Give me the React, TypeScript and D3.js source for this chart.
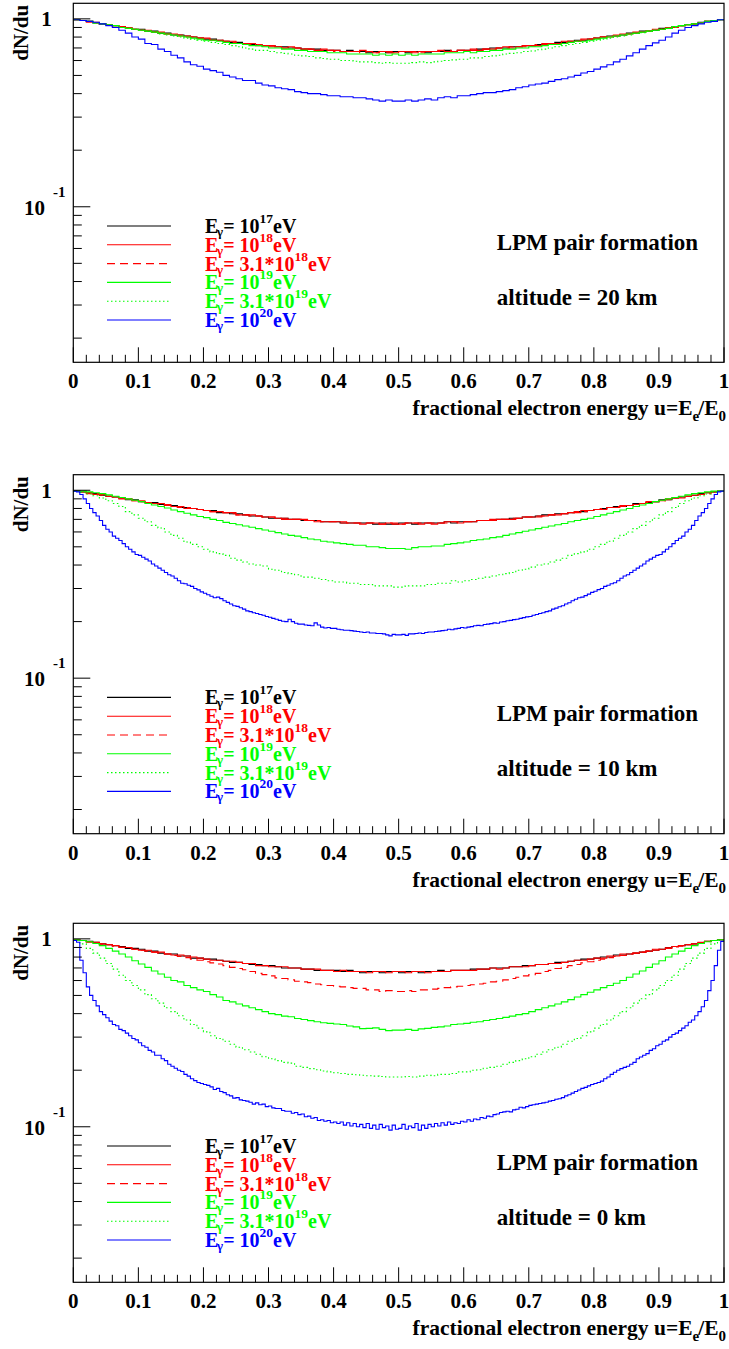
import React from "react";
import * as d3 from "d3";

// dN/du histograms over u = 0..1
// (100 bins where the curve is flat; 200 bins where the steep edges show finer steps)

// altitude = 20 km
const h20_e17 = [
  0.99, 0.98, 0.97, 0.95, 0.94, 0.93, 0.92, 0.91, 0.9, 0.88,
  0.88, 0.86, 0.86, 0.84, 0.84, 0.82, 0.82, 0.81, 0.8, 0.79,
  0.78, 0.78, 0.77, 0.76, 0.75, 0.75, 0.74, 0.73, 0.73, 0.72,
  0.72, 0.71, 0.71, 0.7, 0.7, 0.69, 0.69, 0.69, 0.68, 0.68,
  0.68, 0.67, 0.68, 0.67, 0.67, 0.66, 0.67, 0.67, 0.66, 0.67,
  0.67, 0.66, 0.67, 0.67, 0.66, 0.67, 0.67, 0.68, 0.67, 0.68,
  0.68, 0.68, 0.69, 0.69, 0.7, 0.7, 0.7, 0.71, 0.71, 0.72,
  0.72, 0.73, 0.73, 0.74, 0.75, 0.75, 0.76, 0.77, 0.77, 0.78,
  0.79, 0.8, 0.81, 0.81, 0.82, 0.84, 0.84, 0.86, 0.86, 0.87,
  0.89, 0.89, 0.91, 0.92, 0.93, 0.94, 0.96, 0.97, 0.98, 0.99,
];
const h20_e18 = [
  0.99, 0.98, 0.96, 0.96, 0.94, 0.93, 0.92, 0.9, 0.9, 0.88,
  0.87, 0.87, 0.85, 0.85, 0.83, 0.83, 0.81, 0.81, 0.8, 0.79,
  0.79, 0.77, 0.77, 0.76, 0.76, 0.74, 0.74, 0.74, 0.72, 0.72,
  0.72, 0.71, 0.7, 0.71, 0.7, 0.69, 0.69, 0.68, 0.69, 0.68,
  0.68, 0.67, 0.67, 0.67, 0.68, 0.67, 0.66, 0.67, 0.67, 0.66,
  0.67, 0.67, 0.66, 0.67, 0.67, 0.67, 0.68, 0.67, 0.67, 0.68,
  0.68, 0.69, 0.68, 0.69, 0.69, 0.7, 0.71, 0.7, 0.71, 0.72,
  0.72, 0.72, 0.74, 0.74, 0.74, 0.76, 0.76, 0.76, 0.78, 0.78,
  0.79, 0.8, 0.8, 0.82, 0.83, 0.83, 0.85, 0.85, 0.86, 0.88,
  0.88, 0.9, 0.9, 0.92, 0.93, 0.94, 0.95, 0.97, 0.98, 0.99,
];
const h20_e31e18 = [
  0.99, 0.98, 0.97, 0.95, 0.94, 0.93, 0.92, 0.91, 0.89, 0.88,
  0.87, 0.86, 0.85, 0.84, 0.83, 0.82, 0.82, 0.8, 0.8, 0.79,
  0.78, 0.77, 0.77, 0.76, 0.75, 0.74, 0.74, 0.73, 0.73, 0.72,
  0.71, 0.71, 0.7, 0.7, 0.7, 0.69, 0.69, 0.68, 0.68, 0.68,
  0.67, 0.67, 0.67, 0.67, 0.66, 0.67, 0.66, 0.67, 0.66, 0.66,
  0.67, 0.66, 0.67, 0.66, 0.67, 0.67, 0.67, 0.67, 0.68, 0.68,
  0.68, 0.68, 0.69, 0.69, 0.69, 0.7, 0.7, 0.71, 0.71, 0.71,
  0.72, 0.73, 0.73, 0.74, 0.74, 0.75, 0.76, 0.76, 0.77, 0.78,
  0.79, 0.8, 0.81, 0.81, 0.82, 0.83, 0.84, 0.85, 0.86, 0.87,
  0.88, 0.9, 0.91, 0.92, 0.93, 0.94, 0.95, 0.97, 0.98, 0.99,
];
const h20_e19 = [
  0.99, 0.98, 0.97, 0.95, 0.94, 0.93, 0.92, 0.9, 0.89, 0.88,
  0.87, 0.86, 0.85, 0.84, 0.83, 0.82, 0.81, 0.8, 0.79, 0.78,
  0.77, 0.77, 0.76, 0.75, 0.74, 0.74, 0.73, 0.72, 0.72, 0.71,
  0.7, 0.7, 0.69, 0.69, 0.68, 0.68, 0.67, 0.67, 0.67, 0.66,
  0.66, 0.66, 0.65, 0.65, 0.65, 0.65, 0.64, 0.65, 0.64, 0.65,
  0.64, 0.65, 0.64, 0.65, 0.65, 0.65, 0.65, 0.66, 0.66, 0.66,
  0.67, 0.66, 0.67, 0.67, 0.68, 0.68, 0.69, 0.69, 0.7, 0.7,
  0.71, 0.71, 0.72, 0.73, 0.73, 0.74, 0.75, 0.76, 0.76, 0.77,
  0.78, 0.79, 0.8, 0.81, 0.82, 0.83, 0.84, 0.85, 0.86, 0.87,
  0.88, 0.89, 0.91, 0.92, 0.93, 0.94, 0.95, 0.97, 0.98, 0.99,
];
const h20_e31e19 = [
  0.99, 0.98, 0.97, 0.95, 0.94, 0.93, 0.92, 0.9, 0.89, 0.88,
  0.87, 0.86, 0.85, 0.83, 0.82, 0.81, 0.8, 0.79, 0.78, 0.77,
  0.76, 0.75, 0.74, 0.73, 0.72, 0.71, 0.7, 0.69, 0.68, 0.68,
  0.67, 0.66, 0.655, 0.65, 0.64, 0.635, 0.63, 0.62, 0.615, 0.61,
  0.61, 0.6, 0.6, 0.595, 0.59, 0.59, 0.585, 0.58, 0.585, 0.58,
  0.58, 0.58, 0.585, 0.59, 0.585, 0.59, 0.595, 0.6, 0.605, 0.61,
  0.61, 0.62, 0.62, 0.63, 0.635, 0.64, 0.65, 0.655, 0.66, 0.67,
  0.675, 0.685, 0.69, 0.7, 0.71, 0.72, 0.73, 0.74, 0.75, 0.76,
  0.77, 0.78, 0.79, 0.8, 0.81, 0.82, 0.835, 0.845, 0.86, 0.87,
  0.88, 0.89, 0.9, 0.92, 0.93, 0.94, 0.95, 0.97, 0.98, 0.99,
];
const h20_e20 = [
  0.99, 0.98, 0.97, 0.96, 0.94, 0.92, 0.9, 0.87, 0.84, 0.8,
  0.78, 0.74, 0.73, 0.69, 0.67, 0.64, 0.62, 0.59, 0.57, 0.56,
  0.54, 0.53, 0.52, 0.5, 0.49, 0.48, 0.47, 0.47, 0.455, 0.445,
  0.44, 0.43, 0.425, 0.42, 0.41, 0.405, 0.4, 0.4, 0.395, 0.39,
  0.39, 0.385, 0.385, 0.38, 0.38, 0.375, 0.37, 0.365, 0.37, 0.365,
  0.365, 0.37, 0.365, 0.37, 0.375, 0.37, 0.38, 0.385, 0.38, 0.39,
  0.39, 0.395, 0.4, 0.405, 0.405, 0.41, 0.415, 0.42, 0.43, 0.435,
  0.445, 0.45, 0.455, 0.465, 0.475, 0.48, 0.49, 0.5, 0.515, 0.525,
  0.54, 0.555, 0.57, 0.59, 0.61, 0.635, 0.66, 0.69, 0.72, 0.745,
  0.77, 0.8, 0.84, 0.87, 0.9, 0.92, 0.94, 0.96, 0.97, 0.99,
];

// altitude = 10 km
const h10_e17 = [
  0.99, 0.98, 0.97, 0.96, 0.94, 0.93, 0.92, 0.91, 0.89, 0.89,
  0.87, 0.86, 0.86, 0.84, 0.83, 0.83, 0.81, 0.81, 0.8, 0.79,
  0.78, 0.78, 0.76, 0.76, 0.75, 0.75, 0.74, 0.73, 0.73, 0.72,
  0.71, 0.71, 0.71, 0.7, 0.7, 0.69, 0.69, 0.69, 0.68, 0.68,
  0.68, 0.67, 0.67, 0.67, 0.67, 0.67, 0.66, 0.67, 0.66, 0.66,
  0.67, 0.67, 0.66, 0.67, 0.67, 0.67, 0.67, 0.68, 0.67, 0.68,
  0.68, 0.68, 0.69, 0.69, 0.69, 0.7, 0.7, 0.71, 0.71, 0.72,
  0.72, 0.73, 0.74, 0.74, 0.75, 0.75, 0.76, 0.77, 0.77, 0.78,
  0.79, 0.8, 0.81, 0.82, 0.82, 0.83, 0.85, 0.85, 0.86, 0.87,
  0.89, 0.89, 0.91, 0.92, 0.93, 0.94, 0.96, 0.97, 0.98, 0.99,
];
const h10_e18 = [
  0.99, 0.98, 0.97, 0.95, 0.95, 0.93, 0.92, 0.91, 0.9, 0.88,
  0.88, 0.86, 0.85, 0.85, 0.83, 0.82, 0.82, 0.8, 0.8, 0.79,
  0.78, 0.77, 0.77, 0.76, 0.76, 0.74, 0.74, 0.74, 0.73, 0.72,
  0.72, 0.71, 0.7, 0.7, 0.7, 0.7, 0.69, 0.68, 0.68, 0.68,
  0.68, 0.68, 0.67, 0.67, 0.66, 0.67, 0.67, 0.66, 0.67, 0.66,
  0.66, 0.67, 0.67, 0.66, 0.67, 0.66, 0.67, 0.68, 0.68, 0.67,
  0.68, 0.68, 0.69, 0.69, 0.7, 0.7, 0.7, 0.7, 0.71, 0.72,
  0.72, 0.72, 0.73, 0.74, 0.74, 0.75, 0.76, 0.76, 0.78, 0.78,
  0.79, 0.79, 0.81, 0.81, 0.83, 0.83, 0.84, 0.85, 0.87, 0.87,
  0.88, 0.9, 0.91, 0.91, 0.93, 0.94, 0.95, 0.97, 0.98, 0.99,
];
const h10_e31e18 = [
  0.99, 0.98, 0.96, 0.96, 0.94, 0.93, 0.92, 0.9, 0.9, 0.88,
  0.87, 0.86, 0.85, 0.84, 0.84, 0.82, 0.81, 0.81, 0.8, 0.79,
  0.78, 0.77, 0.77, 0.76, 0.75, 0.74, 0.74, 0.73, 0.73, 0.72,
  0.72, 0.71, 0.71, 0.7, 0.7, 0.69, 0.69, 0.69, 0.68, 0.68,
  0.68, 0.67, 0.67, 0.67, 0.67, 0.67, 0.67, 0.66, 0.67, 0.67,
  0.66, 0.67, 0.67, 0.67, 0.67, 0.67, 0.67, 0.67, 0.68, 0.68,
  0.68, 0.68, 0.69, 0.69, 0.69, 0.7, 0.7, 0.71, 0.71, 0.72,
  0.72, 0.73, 0.73, 0.74, 0.75, 0.75, 0.76, 0.77, 0.77, 0.78,
  0.79, 0.8, 0.81, 0.82, 0.82, 0.83, 0.84, 0.85, 0.86, 0.87,
  0.88, 0.89, 0.91, 0.92, 0.93, 0.94, 0.95, 0.96, 0.98, 0.99,
];
const h10_e19 = [
  0.99, 0.99, 0.98, 0.97, 0.96, 0.945, 0.93, 0.915, 0.9, 0.885,
  0.87, 0.85, 0.835, 0.82, 0.805, 0.785, 0.77, 0.755, 0.74, 0.725,
  0.715, 0.7, 0.69, 0.675, 0.665, 0.655, 0.645, 0.635, 0.625, 0.615,
  0.605, 0.595, 0.585, 0.575, 0.57, 0.56, 0.55, 0.545, 0.535, 0.53,
  0.525, 0.52, 0.515, 0.51, 0.51, 0.5, 0.5, 0.495, 0.49, 0.49,
  0.49, 0.485, 0.495, 0.5, 0.5, 0.505, 0.505, 0.515, 0.52, 0.525,
  0.53, 0.54, 0.545, 0.55, 0.56, 0.565, 0.575, 0.585, 0.595, 0.605,
  0.615, 0.625, 0.635, 0.645, 0.655, 0.665, 0.68, 0.69, 0.7, 0.71,
  0.725, 0.74, 0.755, 0.77, 0.785, 0.8, 0.82, 0.835, 0.85, 0.87,
  0.885, 0.9, 0.915, 0.93, 0.945, 0.96, 0.97, 0.98, 0.99, 0.99,
];
const h10_e31e19 = [
  0.99, 0.975, 0.955, 0.935, 0.91, 0.88, 0.85, 0.82, 0.77, 0.74,
  0.71, 0.68, 0.65, 0.63, 0.6, 0.575, 0.555, 0.53, 0.515, 0.5,
  0.485, 0.47, 0.46, 0.45, 0.435, 0.425, 0.415, 0.405, 0.4, 0.395,
  0.38, 0.375, 0.365, 0.36, 0.355, 0.345, 0.345, 0.34, 0.335, 0.33,
  0.325, 0.325, 0.32, 0.32, 0.315, 0.315, 0.31, 0.31, 0.31, 0.305,
  0.305, 0.31, 0.31, 0.31, 0.315, 0.315, 0.32, 0.32, 0.33, 0.325,
  0.33, 0.335, 0.34, 0.345, 0.35, 0.355, 0.36, 0.365, 0.375, 0.38,
  0.39, 0.4, 0.405, 0.415, 0.425, 0.435, 0.45, 0.46, 0.47, 0.485,
  0.5, 0.515, 0.535, 0.555, 0.575, 0.6, 0.625, 0.65, 0.68, 0.71,
  0.74, 0.77, 0.81, 0.85, 0.88, 0.91, 0.935, 0.955, 0.975, 0.99,
];
const h10_e20 = [
  0.99, 0.98, 0.95, 0.9, 0.85, 0.8, 0.76, 0.73, 0.69, 0.65,
  0.62, 0.6, 0.57, 0.555, 0.54, 0.52, 0.5, 0.485, 0.47, 0.455,
  0.45, 0.44, 0.43, 0.42, 0.405, 0.395, 0.385, 0.375, 0.365, 0.355,
  0.35, 0.34, 0.33, 0.32, 0.318, 0.312, 0.308, 0.3, 0.295, 0.288,
  0.283, 0.278, 0.273, 0.268, 0.27, 0.265, 0.258, 0.253, 0.248, 0.243,
  0.241, 0.237, 0.233, 0.228, 0.226, 0.223, 0.221, 0.218, 0.216, 0.213,
  0.211, 0.208, 0.206, 0.203, 0.201, 0.2, 0.206, 0.2, 0.196, 0.194,
  0.194, 0.192, 0.191, 0.19, 0.197, 0.192, 0.187, 0.185, 0.186, 0.184,
  0.184, 0.182, 0.181, 0.18, 0.18, 0.179, 0.178, 0.177, 0.176, 0.175,
  0.176, 0.174, 0.174, 0.173, 0.173, 0.172, 0.17, 0.168, 0.171, 0.17,
  0.17, 0.171, 0.169, 0.172, 0.172, 0.173, 0.174, 0.173, 0.175, 0.176,
  0.176, 0.177, 0.178, 0.179, 0.18, 0.182, 0.181, 0.183, 0.184, 0.186,
  0.185, 0.187, 0.188, 0.19, 0.191, 0.19, 0.193, 0.194, 0.195, 0.197,
  0.196, 0.199, 0.2, 0.202, 0.203, 0.205, 0.206, 0.208, 0.21, 0.212,
  0.213, 0.216, 0.218, 0.221, 0.223, 0.226, 0.228, 0.233, 0.236, 0.24,
  0.243, 0.248, 0.252, 0.258, 0.263, 0.268, 0.27, 0.275, 0.28, 0.286,
  0.29, 0.296, 0.3, 0.308, 0.312, 0.318, 0.322, 0.33, 0.34, 0.35,
  0.355, 0.365, 0.375, 0.385, 0.395, 0.405, 0.42, 0.43, 0.44, 0.45,
  0.455, 0.47, 0.485, 0.5, 0.52, 0.54, 0.555, 0.57, 0.6, 0.62,
  0.65, 0.69, 0.73, 0.76, 0.8, 0.85, 0.9, 0.95, 0.98, 0.99,
];

// altitude = 0 km
const h0_e17 = [
  0.99, 0.98, 0.97, 0.96, 0.94, 0.93, 0.92, 0.91, 0.89, 0.89,
  0.88, 0.86, 0.86, 0.84, 0.83, 0.83, 0.81, 0.81, 0.79, 0.79,
  0.78, 0.78, 0.77, 0.76, 0.75, 0.75, 0.74, 0.73, 0.73, 0.72,
  0.72, 0.71, 0.7, 0.7, 0.7, 0.69, 0.69, 0.68, 0.68, 0.68,
  0.68, 0.67, 0.68, 0.67, 0.66, 0.67, 0.67, 0.66, 0.67, 0.67,
  0.66, 0.67, 0.67, 0.66, 0.67, 0.67, 0.68, 0.67, 0.68, 0.68,
  0.68, 0.69, 0.69, 0.69, 0.7, 0.7, 0.7, 0.71, 0.71, 0.72,
  0.72, 0.73, 0.73, 0.74, 0.75, 0.75, 0.76, 0.77, 0.78, 0.78,
  0.79, 0.8, 0.8, 0.82, 0.82, 0.83, 0.84, 0.85, 0.86, 0.87,
  0.88, 0.9, 0.91, 0.92, 0.93, 0.94, 0.95, 0.97, 0.98, 0.99,
];
const h0_e18 = [
  0.99, 0.98, 0.96, 0.96, 0.94, 0.93, 0.92, 0.9, 0.9, 0.88,
  0.87, 0.87, 0.85, 0.85, 0.83, 0.82, 0.82, 0.81, 0.8, 0.79,
  0.78, 0.77, 0.77, 0.76, 0.76, 0.75, 0.74, 0.74, 0.72, 0.72,
  0.71, 0.71, 0.71, 0.7, 0.7, 0.69, 0.69, 0.69, 0.68, 0.68,
  0.67, 0.68, 0.67, 0.67, 0.67, 0.66, 0.67, 0.67, 0.66, 0.67,
  0.67, 0.66, 0.67, 0.67, 0.66, 0.67, 0.67, 0.67, 0.68, 0.68,
  0.68, 0.68, 0.69, 0.69, 0.7, 0.69, 0.7, 0.71, 0.71, 0.71,
  0.72, 0.73, 0.73, 0.74, 0.74, 0.75, 0.76, 0.77, 0.77, 0.78,
  0.79, 0.79, 0.81, 0.81, 0.83, 0.83, 0.84, 0.85, 0.86, 0.88,
  0.88, 0.89, 0.91, 0.92, 0.93, 0.94, 0.96, 0.97, 0.98, 0.99,
];
const h0_e31e18 = [
  0.99, 0.98, 0.965, 0.955, 0.94, 0.93, 0.915, 0.905, 0.895, 0.88,
  0.87, 0.86, 0.85, 0.84, 0.83, 0.815, 0.805, 0.795, 0.78, 0.77,
  0.755, 0.745, 0.735, 0.72, 0.705, 0.695, 0.685, 0.67, 0.655, 0.645,
  0.635, 0.62, 0.615, 0.605, 0.595, 0.59, 0.585, 0.575, 0.57, 0.565,
  0.56, 0.555, 0.55, 0.545, 0.545, 0.535, 0.535, 0.525, 0.53, 0.525,
  0.525, 0.53, 0.525, 0.535, 0.535, 0.54, 0.545, 0.55, 0.555, 0.56,
  0.565, 0.57, 0.575, 0.58, 0.59, 0.595, 0.605, 0.615, 0.625, 0.635,
  0.645, 0.655, 0.67, 0.68, 0.695, 0.705, 0.72, 0.73, 0.745, 0.755,
  0.77, 0.78, 0.795, 0.805, 0.815, 0.83, 0.84, 0.85, 0.86, 0.87,
  0.88, 0.895, 0.905, 0.915, 0.93, 0.94, 0.955, 0.965, 0.98, 0.99,
];
const h0_e19 = [
  0.99, 0.98, 0.965, 0.945, 0.92, 0.89, 0.86, 0.83, 0.8, 0.765,
  0.735, 0.705, 0.675, 0.65, 0.625, 0.6, 0.59, 0.565, 0.55, 0.535,
  0.525, 0.505, 0.49, 0.47, 0.462, 0.45, 0.44, 0.43, 0.42, 0.41,
  0.4, 0.395, 0.388, 0.385, 0.377, 0.372, 0.367, 0.362, 0.358, 0.355,
  0.352, 0.35, 0.344, 0.34, 0.333, 0.334, 0.336, 0.33, 0.325, 0.327,
  0.327, 0.33, 0.326, 0.332, 0.334, 0.338, 0.34, 0.344, 0.35, 0.352,
  0.355, 0.36, 0.362, 0.368, 0.372, 0.377, 0.382, 0.388, 0.395, 0.4,
  0.41, 0.42, 0.43, 0.44, 0.45, 0.462, 0.475, 0.49, 0.505, 0.52,
  0.535, 0.55, 0.565, 0.58, 0.6, 0.625, 0.65, 0.675, 0.705, 0.735,
  0.765, 0.8, 0.83, 0.86, 0.89, 0.92, 0.945, 0.965, 0.98, 0.99,
];
const h0_e31e19 = [
  0.98, 0.94, 0.89, 0.84, 0.79, 0.74, 0.69, 0.64, 0.6, 0.565,
  0.535, 0.505, 0.48, 0.455, 0.43, 0.41, 0.39, 0.37, 0.35, 0.335,
  0.32, 0.305, 0.295, 0.285, 0.275, 0.265, 0.257, 0.25, 0.243, 0.236,
  0.23, 0.225, 0.22, 0.218, 0.21, 0.207, 0.204, 0.201, 0.198, 0.196,
  0.194, 0.192, 0.19, 0.189, 0.188, 0.187, 0.186, 0.185, 0.184, 0.184,
  0.184, 0.185, 0.184, 0.186, 0.188, 0.187, 0.19, 0.19, 0.192, 0.196,
  0.196, 0.2, 0.201, 0.205, 0.207, 0.21, 0.215, 0.22, 0.225, 0.23,
  0.236, 0.243, 0.25, 0.257, 0.265, 0.275, 0.285, 0.295, 0.305, 0.32,
  0.335, 0.35, 0.37, 0.39, 0.41, 0.43, 0.455, 0.48, 0.505, 0.535,
  0.565, 0.6, 0.64, 0.69, 0.74, 0.79, 0.84, 0.89, 0.94, 0.98,
];
const h0_e20 = [
  0.98, 0.96, 0.77, 0.66, 0.555, 0.5, 0.47, 0.44, 0.41, 0.395,
  0.38, 0.365, 0.35, 0.345, 0.33, 0.325, 0.315, 0.305, 0.295, 0.29,
  0.28, 0.27, 0.265, 0.255, 0.25, 0.24, 0.24, 0.23, 0.225, 0.215,
  0.21, 0.205, 0.2, 0.197, 0.19, 0.186, 0.18, 0.176, 0.172, 0.17,
  0.168, 0.166, 0.163, 0.158, 0.16, 0.154, 0.152, 0.148, 0.146, 0.142,
  0.143, 0.139, 0.138, 0.137, 0.135, 0.132, 0.134, 0.131, 0.132, 0.128,
  0.129, 0.126, 0.125, 0.125, 0.122, 0.121, 0.121, 0.118, 0.119, 0.116,
  0.117, 0.113, 0.114, 0.111, 0.112, 0.108, 0.109, 0.107, 0.108, 0.105,
  0.106, 0.104, 0.106, 0.102, 0.105, 0.101, 0.104, 0.1, 0.103, 0.099,
  0.104, 0.098, 0.102, 0.097, 0.103, 0.099, 0.101, 0.096, 0.102, 0.097,
  0.098, 0.103, 0.097, 0.101, 0.099, 0.104, 0.096, 0.102, 0.098, 0.103,
  0.1, 0.104, 0.101, 0.105, 0.102, 0.106, 0.103, 0.105, 0.104, 0.107,
  0.106, 0.109, 0.107, 0.11, 0.109, 0.112, 0.111, 0.114, 0.113, 0.116,
  0.117, 0.119, 0.12, 0.121, 0.12, 0.123, 0.124, 0.127, 0.126, 0.128,
  0.13, 0.131, 0.132, 0.133, 0.134, 0.135, 0.137, 0.138, 0.14, 0.141,
  0.143, 0.146, 0.148, 0.151, 0.154, 0.157, 0.16, 0.162, 0.165, 0.168,
  0.17, 0.172, 0.175, 0.18, 0.184, 0.19, 0.195, 0.2, 0.204, 0.207,
  0.21, 0.215, 0.22, 0.23, 0.235, 0.24, 0.245, 0.255, 0.26, 0.27,
  0.275, 0.285, 0.29, 0.3, 0.31, 0.315, 0.325, 0.335, 0.345, 0.36,
  0.37, 0.39, 0.41, 0.435, 0.47, 0.53, 0.6, 0.72, 0.87, 0.97,
];

const legendPrefix = ["", "", "3.1*", "", "3.1*", ""];
const legendExponent = ["17", "18", "18", "19", "19", "20"];
const altitudeLabels = ["altitude = 20 km", "altitude = 10 km", "altitude = 0 km"];
const xTicks = [0, 0.1, 0.2, 0.3, 0.4, 0.5, 0.6, 0.7, 0.8, 0.9, 1];

const seriesColor = ["#000000", "#ff0000", "#ff0000", "#00ff00", "#00ff00", "#0000ff"];
const seriesDash = ["", "", "8 5", "", "1.5 2.5", ""];

const W = 729;
const H = 1349;
const FRAME_LEFT = 73.3;
const FRAME_RIGHT = 724;
const FRAME_H = 359;
const Y_MIN = 0.01487;
const Y_MAX = 1.21;
const FONT = "'Liberation Serif', 'Times New Roman', Times, serif";

type PanelProps = { top: number; series: number[][]; altitude: string };

const Panel = ({ top, series, altitude }: PanelProps) => {
  const bottom = top + FRAME_H;
  const x = d3.scaleLinear().domain([0, 1]).range([FRAME_LEFT, FRAME_RIGHT]);
  const y = d3.scaleLog().domain([Y_MIN, Y_MAX]).range([bottom, top]);

  // step histogram: each bin drawn flat from its low edge to the next
  const hist = d3
    .line<[number, number]>()
    .x((d) => x(d[0]))
    .y((d) => y(d[1]))
    .curve(d3.curveStepAfter);
  const binPoints = (vals: number[]): [number, number][] => {
    const n = vals.length;
    const pts: [number, number][] = vals.map((v, i) => [i / n, v]);
    pts.push([1, vals[n - 1]]);
    return pts;
  };

  const xMinor = d3.range(0, 51).map((i) => i / 50);
  const yMajor = [0.1, 1];
  const yMinor = [0.01, 0.1]
    .flatMap((d) => d3.range(2, 10).map((m) => m * d))
    .filter((v) => v > Y_MIN && v < Y_MAX);

  const legendTop = top + 222.7;
  const rowH = 18.8;

  return (
    <g>
      {series.map((vals, i) => (
        <path
          key={i}
          d={hist(binPoints(vals)) || ""}
          fill="none"
          stroke={seriesColor[i]}
          strokeWidth={1.1}
          strokeDasharray={seriesDash[i] || undefined}
        />
      ))}

      {/* axis ticks */}
      {xMinor.map((v, i) => (
        <line key={"xm" + i} x1={x(v)} x2={x(v)} y1={bottom} y2={bottom - (i % 5 === 0 ? 15 : 7.5)} stroke="#000" strokeWidth={1} />
      ))}
      {yMajor.map((v) => (
        <line key={"ym" + v} x1={FRAME_LEFT} x2={FRAME_LEFT + 17} y1={y(v)} y2={y(v)} stroke="#000" strokeWidth={1} />
      ))}
      {yMinor.map((v) => (
        <line key={"yn" + v} x1={FRAME_LEFT} x2={FRAME_LEFT + 8.5} y1={y(v)} y2={y(v)} stroke="#000" strokeWidth={1} />
      ))}

      <rect x={FRAME_LEFT} y={top} width={FRAME_RIGHT - FRAME_LEFT} height={FRAME_H} fill="none" stroke="#000" strokeWidth={1.2} />

      {/* x tick labels and title */}
      {xTicks.map((v) => (
        <text key={"xl" + v} x={x(v)} y={bottom + 26} textAnchor="middle" fontSize={21}>
          {d3.format("~g")(v)}
        </text>
      ))}
      <text x={FRAME_RIGHT + 2} y={bottom + 53} textAnchor="end" fontSize={21.5}>
        fractional electron energy u=E
        <tspan dy={6} fontSize={15}>e</tspan>
        <tspan dy={-6} dx={-1}>/E</tspan>
        <tspan dy={6} fontSize={15}>0</tspan>
      </text>

      {/* y labels */}
      <text x={51.7} y={y(1) + 7.3} textAnchor="end" fontSize={21}>1</text>
      <text x={45} y={y(0.1) + 8} textAnchor="end" fontSize={21}>10</text>
      <text x={53} y={y(0.1) - 10} fontSize={15}>-1</text>
      <text transform={`translate(28.3, ${top + 1.5}) rotate(-90)`} textAnchor="end" fontSize={21}>
        dN/du
      </text>

      {/* legend */}
      {series.map((_, i) => {
        const ly = legendTop + i * rowH;
        return (
          <g key={"lg" + i}>
            <line
              x1={107}
              x2={171}
              y1={ly}
              y2={ly}
              stroke={seriesColor[i]}
              strokeWidth={1.1}
              strokeDasharray={seriesDash[i] || undefined}
            />
            <text x={205} y={ly + 7} fontSize={20} fill={seriesColor[i]}>
              E
              <tspan dx={-1.5} dy={3} fontSize={13.5}>γ</tspan>
              <tspan dy={-3}>{"= " + legendPrefix[i] + "10"}</tspan>
              <tspan dy={-10} fontSize={13.5}>{legendExponent[i]}</tspan>
              <tspan dy={10}>eV</tspan>
            </text>
          </g>
        );
      })}

      <text x={496.7} y={top + 246.7} fontSize={23}>LPM pair formation</text>
      <text x={496.7} y={top + 301.7} fontSize={23}>{altitude}</text>
    </g>
  );
};

const panelTops = [3.3, 474.7, 923.3];
const panelSeries = [
  [h20_e17, h20_e18, h20_e31e18, h20_e19, h20_e31e19, h20_e20],
  [h10_e17, h10_e18, h10_e31e18, h10_e19, h10_e31e19, h10_e20],
  [h0_e17, h0_e18, h0_e31e18, h0_e19, h0_e31e19, h0_e20],
];

export default function App() {
  return (
    <svg
      width={W}
      height={H}
      style={{ position: "absolute", left: 0, top: 0, background: "#fff" }}
      fontFamily={FONT}
      fontWeight="bold"
    >
      <rect width={W} height={H} fill="#fff" />
      {panelTops.map((t, i) => (
        <Panel key={i} top={t} series={panelSeries[i]} altitude={altitudeLabels[i]} />
      ))}
    </svg>
  );
}
